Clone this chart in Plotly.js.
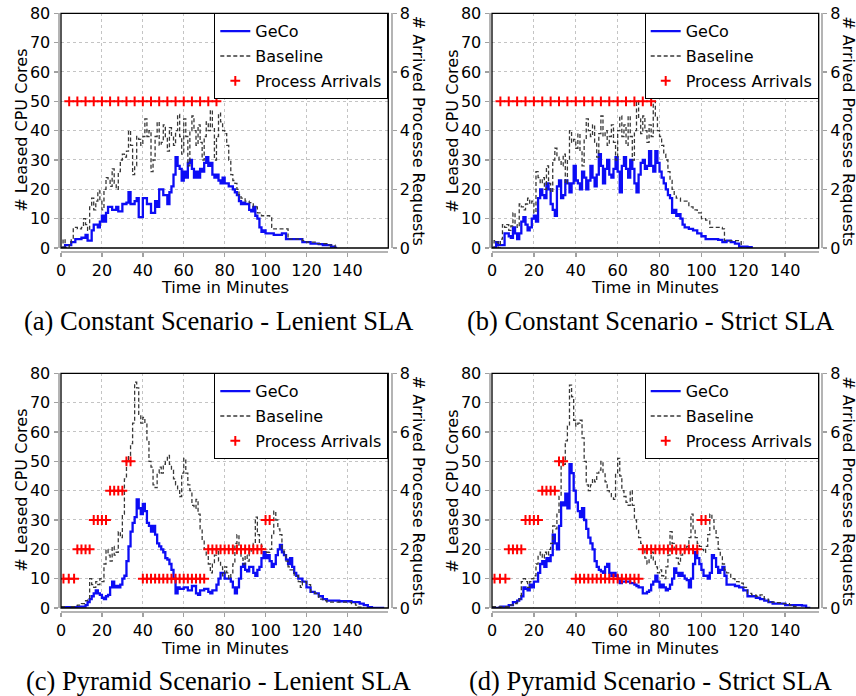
<!DOCTYPE html>
<html><head><meta charset="utf-8">
<script src="https://cdn.plot.ly/plotly-3.0.1.min.js"></script>
<style>html,body{margin:0;padding:0;background:#fff}#chart{width:856px;height:696px}</style>
</head><body><div id="chart"></div>
<script>
// ---------- data ----------
const timeTicks = [0,20,40,60,80,100,120,140];
const coreTicks = [0,10,20,30,40,50,60,70,80];
const reqTicks = [0,2,4,6,8];
const seriesNames = ['GeCo','Baseline','Process Arrivals'];
const captions = ['(a) Constant Scenario - Lenient SLA','(b) Constant Scenario - Strict SLA','(c) Pyramid Scenario - Lenient SLA','(d) Pyramid Scenario - Strict SLA'];
const leftTitle = '# Leased CPU Cores';
const rightTitle = '# Arrived Processe Requests';
const xTitle = 'Time in Minutes';

// (a) Constant - Lenient : [minute, cores]
const aGeco = [[0,0],[2,1],[5,2],[7,3],[10,3.5],[12,4.5],[13,2.5],[15,6],[16,8],[18,7],
[19,9],[20,11],[21,9],[22,12],[23,14],[25,13],[27,14],[28,12.5],[30,15],[32,15.5],
[33,19],[34,15],[36,16],[37,17],[38,10.5],[40,17],[42,15],[44,12],[46,16],[47,14],
[48,20],[50,18],[52,15],[53,19],[54,21],[55,25],[56,31],[57,28],[58,27],[59,23],
[60,26],[61,24],[62,29],[63,30],[64,27],[65,24],[66,26],[67,24],[68,27],[69,26],
[70,29],[71,31],[72,28],[73,29],[74,25],[75,24],[76,25],[77,23],[78,22],[79,24],
[80,22],[82,21],[84,20],[85,19],[86,18],[87,16],[88,15],[89,15.5],[90,15],[92,13],
[93,12.5],[94,14],[95,11],[96,10],[97,7],[98,5.5],[99,6],[100,5],[102,5],[104,4.5],
[106,4.5],[108,5],[110,3],[112,3],[114,3],[116,3],[118,2],[120,2],[122,1.5],[124,1.5],
[126,1.3],[128,1],[130,1],[132,0.5],[134,0],[135,0]];
const aBase = [[0,0],[1,3],[2,0],[4,1],[5,3],[6,7],[8,6.5],[10,7],[11,10],[12,8],
[13,6],[14,14],[15,17],[16,13],[17,16],[18,19.5],[19,16],[20,13],[21,20],[22,24],
[23,23],[24,21],[25,27],[26,22],[27,20],[28,26],[29,30],[30,32],[31,31],[32,33],
[33,40],[34,35],[35,25],[36,28],[37,38],[38,37],[39,35],[40,38],[41,44],[42,38],
[43,40],[44,26],[45,30],[46,38],[47,43],[48,35],[49,36],[50,42],[51,38],[52,33],
[53,41],[54,38],[55,35],[56,40],[57,45.5],[58,38],[59,32],[60,44],[61,38],[62,28],
[63,40],[64,45],[65,40],[66,35],[67,42],[68,36],[69,30],[70,38],[71,43],[72,40],
[73,47],[74,41],[75,30],[76,38],[77,46],[78,43],[79,40],[80,39],[81,35],[82,30],
[83,25],[84,23],[85,22],[86,20],[87,18],[88,17],[90,16],[92,15.5],[94,14],[96,12],
[98,11],[100,11],[102,10.5],[103,7],[104,6.5],[106,6.5],[108,6.5],[110,6.5],[111,3],[114,3],
[118,2.5],[120,2],[125,1.5],[130,1],[134,0]];
const aArr = [[4,5],[8,5],[12,5],[16,5],[20,5],[24,5],[28,5],[32,5],[36,5],[40,5],
[44,5],[48,5],[52,5],[56,5],[60,5],[64,5],[68,5],[72,5],[76,5]];

// (b) Constant - Strict
const bGeco = [[0,0],[1,0],[2,2],[3,1],[4,1],[5,1],[6,5],[7,5],[8,4],[9,3.5],
[10,7],[11,5],[12,3],[13,5],[14,9],[15,10.5],[16,8],[17,6],[18,7],[19,10],
[20,11],[21,9],[22,17],[23,20],[24,18],[25,17],[26,22],[27,20],[28,15],[29,13],
[30,11],[31,21],[32,23],[33,17],[34,18],[35,23],[36,22],[37,19],[38,22],[39,28],
[40,23],[41,22],[42,20],[43,26],[44,24],[45,20],[46,23],[47,28],[48,24],[49,21],
[50,25],[51,32],[52,28],[53,22],[54,27],[55,30],[56,25],[57,24],[58,27],[59,31],
[60,26],[61,19],[62,28],[63,31],[64,27],[65,24],[66,30],[67,27],[68,22],[69,19],
[70,25],[71,29],[72,30],[73,27],[74,28],[75,33],[76,28],[77,26],[78,33],[79,29],
[80,26],[81,24],[82,22],[83,20],[84,18],[85,17],[86,12],[87,13],[88,11],[89,11.5],
[90,10],[91,8],[92,7],[94,6.5],[96,6],[98,5],[100,4],[102,3],[104,3],[106,3],
[108,2.8],[110,2],[112,2.5],[114,2],[116,1.5],[118,0.5],[120,0.5],[122,0.3],[124,0]];
const bBase = [[0,0],[1,2.5],[2,2],[3,0],[4,3],[5,8],[6,7],[7,8],[8,6],[9,7.5],
[10,12],[11,8],[12,7],[13,15],[14,14],[15,13],[16,15],[17,17],[18,15],[19,16],
[20,12],[21,26],[22,24],[23,22],[24,24],[25,20],[26,28],[27,22],[28,19],[29,30],
[30,34],[31,31],[32,30],[33,28],[34,32],[35,22],[36,30],[37,40],[38,36],[39,37],
[40,34],[41,39],[42,33],[43,28],[44,37],[45,44],[46,40],[47,38],[48,42],[49,36],
[50,31],[51,39],[52,45],[53,38],[54,40],[55,35],[56,38],[57,42],[58,36],[59,30],
[60,40],[61,45],[62,38],[63,42],[64,35],[65,45],[66,38],[67,30],[68,40],[69,50],
[70,44],[71,39],[72,45],[73,40],[74,36],[75,42],[76,38],[77,50],[78,45],[79,40],
[80,38],[81,35],[82,32],[83,30],[84,26],[85,23],[86,20],[87,18],[88,17],[90,16],
[92,16],[94,14],[96,13],[98,12],[100,10],[102,9.5],[104,7],[106,7],[108,7],[110,6.5],
[111,2.5],[114,2.5],[118,2.5],[119,0]];
const bArr = [[4,5],[8,5],[12,5],[16,5],[20,5],[24,5],[28,5],[32,5],[36,5],[40,5],
[44,5],[48,5],[52,5],[56,5],[60,5],[64,5],[68,5],[72,5],[76,5]];

// (c) Pyramid - Lenient
const cGeco = [[0,0.3],[5,0.3],[8,0.5],[10,0.5],[12,1],[13,2],[14,3],[15,4],[16,5],[17,6],
[18,5],[19,4.5],[20,3.5],[21,3],[22,4],[23,4.5],[24,7],[25,9],[26,7],[27,7.5],
[28,7],[29,8],[30,10],[31,11],[32,16],[33,21],[34,26],[35,29],[36,31],[37,37],
[38,34],[39,32],[40,35.5],[41,33],[42,29],[43,28],[44,26],[45,28],[46,25],[47,22],
[48,21],[49,20],[50,19],[51,17],[52,16.5],[53,15],[54,13],[55,10],[56,5],[57,7],
[58,6.5],[60,7],[62,6],[64,7.5],[66,5],[67,4.5],[68,6],[70,6.5],[72,5.5],[73,5],
[74,6],[76,8],[77,10],[78,12],[80,10],[82,10],[83,9],[84,7],[85,5],[86,7],
[87,10],[88,14],[89,15],[90,13],[91,12.5],[92,14],[94,12],[95,11],[96,13],[97,14],
[98,17],[99,19],[100,17],[101,18],[102,16],[103,14],[104,15],[105,18],[106,20],[107,21.5],
[108,19],[109,18],[110,16.5],[111,15],[112,17],[113,14],[114,12],[115,11],[116,10],[118,9],
[120,7],[122,5.5],[124,5],[126,4],[128,3],[130,2.5],[132,2.5],[134,2.5],[136,2.3],[138,2.3],
[140,2.3],[142,2],[144,2],[146,1.5],[148,1],[150,0.3],[152,0],[158,0]];
const cBase = [[0,0.5],[3,0],[5,0.5],[8,1],[10,1.5],[12,2.5],[13,3],[14,10],[15,8],[16,7],
[17,9],[18,8],[19,10],[20,9],[21,15],[22,20],[23,18],[24,16],[25,21],[26,18],
[27,19],[28,26],[29,24],[30,32],[31,44],[32,50],[33,52],[34,56],[35,63],[36,77],
[37,75],[38,66],[39,63],[40,65],[41,63],[42,57],[43,50],[44,48],[45,42],[46,41],
[47,46],[48,48],[49,46],[50,49],[51,50],[52,52],[53,49],[54,47],[55,44],[56,42],
[57,40],[58,38],[59,46],[60,51],[61,46],[62,42],[63,40],[64,35],[65,34],[66,37],
[67,32],[68,27],[69,23],[70,20],[71,18],[72,15],[73,12],[74,15],[75,18],[76,20],
[77,16],[78,14],[79,11],[80,14],[81,12],[82,10],[83,12],[84,15],[85,22],[86,25],
[87,20],[88,17],[89,15],[90,18],[91,16],[92,19],[93,20],[94,22],[95,31],[96,25],
[97,22],[98,21],[99,20],[100,19],[101,19],[102,20],[103,25],[104,33],[105,30],[106,27],
[107,25],[108,20],[109,18],[110,16],[111,14],[112,13],[114,11],[116,9],[117,7],[118,9],
[120,8],[122,5.5],[124,5],[126,3],[128,2.5],[130,2],[134,2],[138,2],[142,1.5],[144,1],
[145,0.3],[148,0]];
const cArr = [[1.2,1],[3.8,1],[6.4,1],[8,2],[10,2],[12,2],[14,2],[16,3],[18,3],[20,3],
[22,3],[24,4],[26,4],[28,4],[30,4],[32,5],[34,5],[40,1],[42,1],[44,1],
[46,1],[48,1],[50,1],[52,1],[54,1],[56,1],[58,1],[60,1],[62,1],[64,1],
[66,1],[68,1],[70,1],[72,2],[74,2],[76,2],[78,2],[80,2],[82,2],[84,2],
[86,2],[88,2],[90,2],[92,2],[94,2],[96,2],[98,2],[100,3],[102,3]];

// (d) Pyramid - Strict
const dGeco = [[0,0],[4,0.5],[8,1],[10,2],[12,2.5],[13,3],[14,4],[15,7],[16,6.5],[17,6],
[18,8],[19,7],[20,9],[21,9],[22,12],[23,15],[24,16],[25,14],[26,17],[27,16],
[28,18],[29,25],[30,22],[31,20],[32,28],[33,36],[34,35],[35,39],[36,34],[37,49],
[38,46],[39,40],[40,36],[41,33],[42,31],[43,34],[44,30],[45,27],[46,24],[47,22],
[48,20],[49,16],[50,14],[51,13],[52,12.5],[53,12],[54,14],[55,15],[56,12],[57,11],
[58,12],[59,11],[60,10],[61,8.5],[62,9],[64,9],[66,8.5],[68,8],[69,7.5],[70,7],
[72,5],[74,5.5],[75,6],[76,8],[77,9],[78,11],[79,9],[80,7],[81,8],[82,7],
[83,6],[84,6.5],[85,8],[86,10],[87,13.5],[88,12],[89,11],[90,12],[91,11],[92,10],
[93,9.5],[94,7],[95,10],[96,15],[97,19],[98,17],[99,15],[100,13],[101,11],[102,11],
[103,10],[104,12],[105,18],[106,17],[107,14],[108,12],[109,13],[110,14],[111,11],[112,8],
[114,8],[116,7.5],[118,7],[120,6],[122,4],[124,4],[126,3.5],[128,3],[130,2.5],[132,2],
[134,1.5],[136,1.5],[138,1.5],[140,1],[142,1],[146,1],[148,0.8],[150,0],[152,0]];
const dBase = [[0,0.5],[4,0.5],[6,0.5],[8,1],[10,1.5],[12,2],[13,3],[14,9],[15,10],[16,9],
[17,7],[18,9],[19,10],[20,11],[21,15],[22,18],[23,19],[24,17],[25,19],[26,18],
[27,20],[28,22],[29,28],[30,27],[31,32],[32,38],[33,50],[34,49],[35,57],[36,62],
[37,76],[38,72],[39,64],[40,62],[41,63],[42,64],[43,58],[44,50],[45,42],[46,40],
[47,42],[48,44],[49,43],[50,46],[51,47],[52,50],[53,46],[54,43],[55,40],[56,39],
[57,38],[58,37],[59,46],[60,51],[61,45],[62,40],[63,38],[64,36],[65,35],[66,40],
[67,35],[68,30],[69,27],[70,24],[71,22],[72,20],[73,17],[74,15],[75,17],[76,19],
[77,16],[78,14],[79,12],[80,13],[81,11],[82,10],[83,14],[84,18],[85,26],[86,22],
[87,20],[88,17],[89,15],[90,18],[91,19],[92,20],[93,21],[94,24],[95,32],[96,27],
[97,24],[98,22],[99,21],[100,20],[101,19],[102,21],[103,25],[104,32],[105,30],[106,27],
[107,24],[108,20],[109,18],[110,15],[111,13],[112,12],[114,10],[116,9],[118,8.5],[120,7],
[122,5],[124,4.5],[126,4],[128,4.5],[130,3],[132,2],[134,2],[136,1.8],[138,1.5],[140,1.5],
[142,1],[144,0.5],[146,0]];
const dArr = cArr.map(p => p.slice());

// ---------- layout geometry (pixels) ----------
const W = 856, H = 696;
const geo = [
  {x0:61,  x1:388.3, y0:13.3,  y1:248, xmax:160, yl:58.5,  yr:391.5, xl:251.5, cx:218.5, cy:321},
  {x0:492, x1:818.7, y0:13.3,  y1:248, xmax:156, yl:489.5, yr:822,   xl:251.5, cx:650,   cy:321},
  {x0:61,  x1:388.3, y0:373.3, y1:608, xmax:160, yl:58.5,  yr:391.5, xl:611.5, cx:218.5, cy:681},
  {x0:492, x1:818.7, y0:373.3, y1:608, xmax:156, yl:489.5, yr:822,   xl:611.5, cx:650,   cy:681}
];
const panelData = [
  {geco:aGeco, base:aBase, arr:aArr},
  {geco:bGeco, base:bBase, arr:bArr},
  {geco:cGeco, base:cBase, arr:cArr},
  {geco:dGeco, base:dBase, arr:dArr}
];

const traces = [];
const layout = {
  width: W, height: H,
  margin: {l:0, r:0, t:0, b:0},
  paper_bgcolor: '#fff', plot_bgcolor: '#fff',
  font: {family: 'DejaVu Sans, sans-serif', size: 16, color: '#000'},
  showlegend: true,
  shapes: [], annotations: []
};
const px = v => v / W, py = v => 1 - v / H;

panelData.forEach((p, i) => {
  const n = i + 1, g = geo[i];
  const xk = n === 1 ? 'x' : 'x' + n;
  const yk = n === 1 ? 'y' : 'y' + n;
  const yrk = 'y' + (n + 4);
  const lg = n === 1 ? 'legend' : 'legend' + n;

  traces.push({type:'scatter', mode:'lines', name:seriesNames[0], legend:lg, legendgroup:'g'+n+'a',
    x:p.geco.map(d=>d[0]), y:p.geco.map(d=>d[1]), xaxis:xk, yaxis:yk,
    line:{color:'#0c0cf5', width:2.3, shape:'hv'}});
  traces.push({type:'scatter', mode:'lines', name:seriesNames[1], legend:lg, legendgroup:'g'+n+'b',
    x:p.base.map(d=>d[0]), y:p.base.map(d=>d[1]), xaxis:xk, yaxis:yk,
    line:{color:'#383838', width:1.3, dash:'4px,2.5px', shape:'hv'}});
  traces.push({type:'scatter', mode:'markers', name:seriesNames[2], legend:lg, legendgroup:'g'+n+'c',
    x:p.arr.map(d=>d[0]), y:p.arr.map(d=>d[1]), xaxis:xk, yaxis:yrk,
    marker:{symbol:'cross-thin', size:7, color:'#ff0000', line:{color:'#ff0000', width:2}}});

  const xName = n === 1 ? 'xaxis' : 'xaxis' + n;
  const yName = n === 1 ? 'yaxis' : 'yaxis' + n;
  const common = {ticks:'outside', ticklen:4, tickcolor:'#a0a0a0', tickwidth:1.5,
    showline:true, linecolor:'#b4b4b4', linewidth:2, zeroline:false,
    tickfont:{size:16}, fixedrange:true};
  layout[xName] = Object.assign({
    domain:[px(g.x0), px(g.x1)], range:[0, g.xmax], anchor:'free', position: py(g.xl),
    tickvals: timeTicks, showgrid:true, gridcolor:'#c4c4c4', griddash:'dot', gridwidth:1
  }, common);
  layout[yName] = Object.assign({
    domain:[py(g.y1), py(g.y0)], range:[0, 80], anchor:'free', position: px(g.yl),
    tickvals: coreTicks, showgrid:true, gridcolor:'#c4c4c4', griddash:'dot', gridwidth:1
  }, common);
  layout['yaxis' + (n + 4)] = Object.assign({
    overlaying: yk, side:'right', range:[0, 8], anchor:'free', position: px(g.yr),
    tickvals: reqTicks, showgrid:false
  }, common);
  layout[lg] = {
    x: px(g.x1), xanchor:'right', y: py(g.y0), yanchor:'top',
    bgcolor:'#fff', bordercolor:'#000', borderwidth:1,
    font:{family:'DejaVu Sans, sans-serif', size:16, color:'#000'},
    traceorder:'grouped', tracegroupgap:1, itemwidth:30
  };
  layout.shapes.push({type:'rect', xref:xk+' domain', yref:yk+' domain', x0:0, x1:1, y0:0, y1:1,
    line:{color:'#000', width:1.3}, layer:'above'});

  layout.annotations.push({text:leftTitle, xref:'paper', yref:'paper', x:px(g.x0-39), y:py((g.y0+g.y1)/2),
    textangle:-90, showarrow:false, font:{size:16}, xanchor:'center', yanchor:'middle'});
  layout.annotations.push({text:rightTitle, xref:'paper', yref:'paper', x:px(g.yr+26.5), y:py((g.y0+g.y1)/2),
    textangle:90, showarrow:false, font:{size:16}, xanchor:'center', yanchor:'middle'});
  layout.annotations.push({text:xTitle, xref:'paper', yref:'paper', x:px((g.x0+g.x1)/2), y:py(g.y1+40),
    showarrow:false, font:{size:16}, xanchor:'center', yanchor:'middle'});
  layout.annotations.push({text:captions[i], xref:'paper', yref:'paper', x:px(g.cx), y:py(g.cy),
    showarrow:false, font:{family:'Liberation Serif, serif', size:26.5, color:'#000'}, xanchor:'center', yanchor:'middle'});
});

Plotly.newPlot('chart', traces, layout, {staticPlot:true, displayModeBar:false});
</script>
</body></html>
